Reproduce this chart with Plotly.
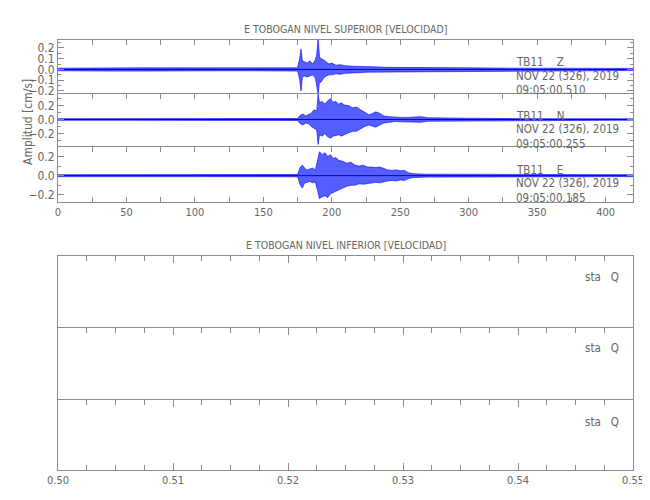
import plotly.graph_objects as go

# ---------------- data ----------------
title_top = "E TOBOGAN NIVEL SUPERIOR [VELOCIDAD]"
title_bottom = "E TOBOGAN NIVEL INFERIOR [VELOCIDAD]"
y_title = "Amplitud [cm/s]"

station_labels = ["TB11\u00a0\u00a0\u00a0\u00a0Z", "TB11\u00a0\u00a0\u00a0\u00a0N", "TB11\u00a0\u00a0\u00a0\u00a0E"]
date_label = "NOV 22 (326), 2019"
start_times = ["09:05:00.510", "09:05:00.255", "09:05:00.185"]
empty_labels = ["sta\u00a0\u00a0\u00a0Q", "sta\u00a0\u00a0\u00a0Q", "sta\u00a0\u00a0\u00a0Q"]

# Z component envelope (cm/s)
z_t = [0, 20, 40, 60, 80, 100, 120, 140, 160, 175, 176.5, 177.5, 178.5, 180, 182, 184, 186, 188, 189,
       190, 191, 192, 194, 196, 198, 200, 203, 206, 210, 215, 220, 225, 230, 240, 250, 260, 280, 300,
       330, 360, 390, 420]
z_up = [0.012, 0.015, 0.015, 0.015, 0.015, 0.015, 0.012, 0.012, 0.012, 0.015, 0.10, 0.19, 0.08, 0.07,
        0.06, 0.08, 0.05, 0.09, 0.14, 0.29, 0.12, 0.10, 0.09, 0.07, 0.05, 0.06, 0.04, 0.045, 0.035,
        0.03, 0.03, 0.025, 0.025, 0.02, 0.02, 0.02, 0.015, 0.015, 0.012, 0.012, 0.012, 0.01]
z_lo = [-0.012, -0.015, -0.015, -0.015, -0.015, -0.015, -0.012, -0.012, -0.012, -0.015, -0.09, -0.20,
        -0.07, -0.06, -0.07, -0.06, -0.05, -0.08, -0.13, -0.23, -0.11, -0.12, -0.08, -0.06, -0.05,
        -0.05, -0.04, -0.045, -0.035, -0.03, -0.03, -0.025, -0.025, -0.02, -0.02, -0.02, -0.015,
        -0.015, -0.012, -0.012, -0.012, -0.01]

# N component envelope (cm/s)
n_t = [0, 50, 100, 150, 175, 177, 179, 181, 183, 185, 187, 189, 190, 191, 193, 195, 197, 199, 201, 203,
       205, 207, 209, 212, 215, 218, 221, 224, 227, 229, 232, 235, 238, 242, 246, 250, 255, 260, 265,
       270, 280, 300, 340, 380, 420]
n_up = [0.012, 0.012, 0.012, 0.012, 0.014, 0.06, 0.08, 0.05, 0.07, 0.09, 0.14, 0.12, 0.37, 0.24, 0.26,
        0.22, 0.27, 0.30, 0.25, 0.26, 0.22, 0.24, 0.21, 0.20, 0.17, 0.18, 0.14, 0.11, 0.07, 0.08, 0.11,
        0.09, 0.05, 0.04, 0.03, 0.03, 0.03, 0.035, 0.04, 0.025, 0.02, 0.018, 0.012, 0.012, 0.01]
n_lo = [-0.012, -0.012, -0.012, -0.012, -0.014, -0.06, -0.08, -0.05, -0.06, -0.10, -0.13, -0.15, -0.36,
        -0.22, -0.24, -0.20, -0.25, -0.27, -0.24, -0.23, -0.22, -0.24, -0.22, -0.19, -0.17, -0.17,
        -0.13, -0.10, -0.08, -0.09, -0.11, -0.08, -0.05, -0.04, -0.03, -0.03, -0.03, -0.035, -0.04,
        -0.025, -0.02, -0.018, -0.012, -0.012, -0.01]

# E component envelope (cm/s)
e_t = [0, 50, 100, 150, 175, 177, 178.5, 180, 182, 184, 186, 188, 189.5, 191, 193, 195, 197, 199, 201,
       203, 205, 208, 211, 214, 217, 220, 223, 226, 229, 232, 235, 238, 241, 244, 247, 250, 253, 256,
       260, 270, 290, 320, 360, 420]
e_up = [0.01, 0.01, 0.01, 0.01, 0.012, 0.09, 0.11, 0.08, 0.06, 0.07, 0.08, 0.06, 0.16, 0.25, 0.22, 0.24,
        0.20, 0.22, 0.18, 0.19, 0.16, 0.15, 0.13, 0.14, 0.11, 0.10, 0.11, 0.09, 0.09, 0.085, 0.09, 0.075,
        0.06, 0.055, 0.06, 0.05, 0.055, 0.03, 0.02, 0.015, 0.015, 0.012, 0.01, 0.01]
e_lo = [-0.01, -0.01, -0.01, -0.01, -0.012, -0.10, -0.13, -0.08, -0.07, -0.06, -0.075, -0.07, -0.15,
        -0.24, -0.22, -0.21, -0.23, -0.19, -0.18, -0.16, -0.15, -0.13, -0.11, -0.10, -0.10, -0.085,
        -0.09, -0.08, -0.075, -0.07, -0.075, -0.065, -0.055, -0.05, -0.055, -0.045, -0.05, -0.03,
        -0.02, -0.015, -0.015, -0.012, -0.01, -0.01]

top_xrange = [0, 420]
bottom_xrange = [0.50, 0.55]
z_range = [-0.228, 0.274]
n_range = [-0.396, 0.367]
e_range = [-0.276, 0.30]

# ---------------- style / layout ----------------
# the page body has an 8 px margin, so the figure is offset by 8 px
OFF = 8
W, H = 650 - OFF, 500 - OFF
FONT = "DejaVu Sans Condensed, Liberation Sans Narrow, DejaVu Sans, sans-serif"
TXT = "#666666"
AX = "#8c8c8c"
BLUE = "#0000ff"
FILL = "rgba(35,50,255,0.78)"

def px(v):  # horizontal page pixel -> paper
    return (v - OFF) / W

def py(v):  # vertical page pixel (from top) -> paper
    return 1 - (v - OFF) / H

x0, x1 = px(58), px(633)
doms = {
    1: [py(94), py(40)],
    2: [py(147), py(94)],
    3: [py(202), py(147)],
    4: [py(328), py(256)],
    5: [py(400), py(328)],
    6: [py(470), py(400)],
}

fig = go.Figure()

series = [(z_t, z_up, z_lo, 1), (n_t, n_up, n_lo, 2), (e_t, e_up, e_lo, 3)]
for t, up, lo, k in series:
    xs = list(t) + list(t)[::-1]
    ys = list(up) + list(lo)[::-1]
    ax = "x" if k == 1 else f"x{k}"
    ay = "y" if k == 1 else f"y{k}"
    fig.add_trace(go.Scatter(x=xs, y=ys, fill="toself", fillcolor=FILL, mode="lines",
                             line=dict(color=BLUE, width=0.6), xaxis=ax, yaxis=ay,
                             hoverinfo="skip", showlegend=False))
    fig.add_trace(go.Scatter(x=[t[0], t[-1]], y=[0, 0], mode="lines",
                             line=dict(color="#0000dd", width=1), xaxis=ax, yaxis=ay,
                             hoverinfo="skip", showlegend=False))

for k in (4, 5, 6):
    fig.add_trace(go.Scatter(x=[None], y=[None], xaxis=f"x{k}", yaxis=f"y{k}", showlegend=False))

tickfont = dict(family=FONT, size=11, color=TXT)

def xaxis(k, rng, dtick, minor_dt, labels, mlen, nlen):
    d = dict(domain=[x0, x1], range=rng, anchor="y" if k == 1 else f"y{k}", automargin=False,
             showline=True, linecolor=AX, linewidth=1, ticks="inside", ticklen=mlen,
             tickcolor=AX, dtick=dtick, tick0=rng[0], showgrid=False, zeroline=False,
             tickfont=tickfont, fixedrange=True, ticklabeloverflow="allow",
             minor=dict(dtick=minor_dt, ticks="inside", ticklen=nlen, tickcolor=AX, showgrid=False))
    if labels:
        d.update(side="bottom", mirror="ticks", showticklabels=True)
    else:
        d.update(side="top", mirror=False, showticklabels=False)
    if rng == bottom_xrange:
        d["tickformat"] = ".2f"
    return d

def yaxis(k, rng, dtick, minor_dt):
    return dict(domain=doms[k], range=rng, anchor="x" if k == 1 else f"x{k}", automargin=False,
                showline=True, linecolor=AX, linewidth=1, mirror="ticks", ticks="inside",
                ticklen=6, tickcolor=AX, dtick=dtick, tick0=0, showgrid=False, zeroline=False,
                tickfont=dict(family=FONT, size=12, color=TXT), tickformat=".1f", fixedrange=True,
                minor=dict(dtick=minor_dt, ticks="inside", ticklen=3, tickcolor=AX, showgrid=False))

layout = dict(template="none", width=W, height=H, autosize=False,
              margin=dict(l=0, r=0, t=0, b=0, pad=0),
              paper_bgcolor="white", plot_bgcolor="white", showlegend=False,
              font=dict(family=FONT, color=TXT, size=12))

layout["xaxis"] = xaxis(1, top_xrange, 50, 25, False, 5, 5)
layout["xaxis2"] = xaxis(2, top_xrange, 50, 25, False, 5, 5)
layout["xaxis3"] = xaxis(3, top_xrange, 50, 25, True, 5, 5)
layout["xaxis4"] = xaxis(4, bottom_xrange, 0.01, 0.0025, False, 7, 5)
layout["xaxis5"] = xaxis(5, bottom_xrange, 0.01, 0.0025, False, 7, 5)
layout["xaxis6"] = xaxis(6, bottom_xrange, 0.01, 0.0025, True, 7, 5)

layout["yaxis"] = yaxis(1, z_range, 0.1, 0.05)
layout["yaxis2"] = yaxis(2, n_range, 0.2, 0.1)
layout["yaxis3"] = yaxis(3, e_range, 0.2, 0.1)
for k in (4, 5, 6):
    layout[f"yaxis{k}"] = dict(domain=doms[k], range=[0, 1], anchor=f"x{k}", showline=True,
                               automargin=False, linecolor=AX, linewidth=1, mirror=True, ticks="",
                               showticklabels=False, showgrid=False, zeroline=False, fixedrange=True)

fig.update_layout(**layout)

ann = []
def text(x, y, s, xanchor="left", size=12, angle=0):
    ann.append(dict(x=px(x), y=py(y), xref="paper", yref="paper", text=s, showarrow=False,
                    xanchor=xanchor, yanchor="middle", textangle=angle,
                    font=dict(family=FONT, size=size, color=TXT)))

text(346, 29, title_top, "center", size=10.5)
text(346, 245, title_bottom, "center", size=10.5)
text(28, 122, y_title, "center", angle=-90)

rows = [(62, 76, 90), (116, 129, 144), (170, 183, 198)]
for (a, b, c), st, tm in zip(rows, station_labels, start_times):
    text(514, a, st, size=11.5)
    text(514, b, date_label, size=11.5)
    text(514, c, tm, size=11.5)

for yv, s in zip([277, 348, 422], empty_labels):
    text(583, yv, s, size=11.5)

fig.update_layout(annotations=ann)
fig.write_html("out.html")
